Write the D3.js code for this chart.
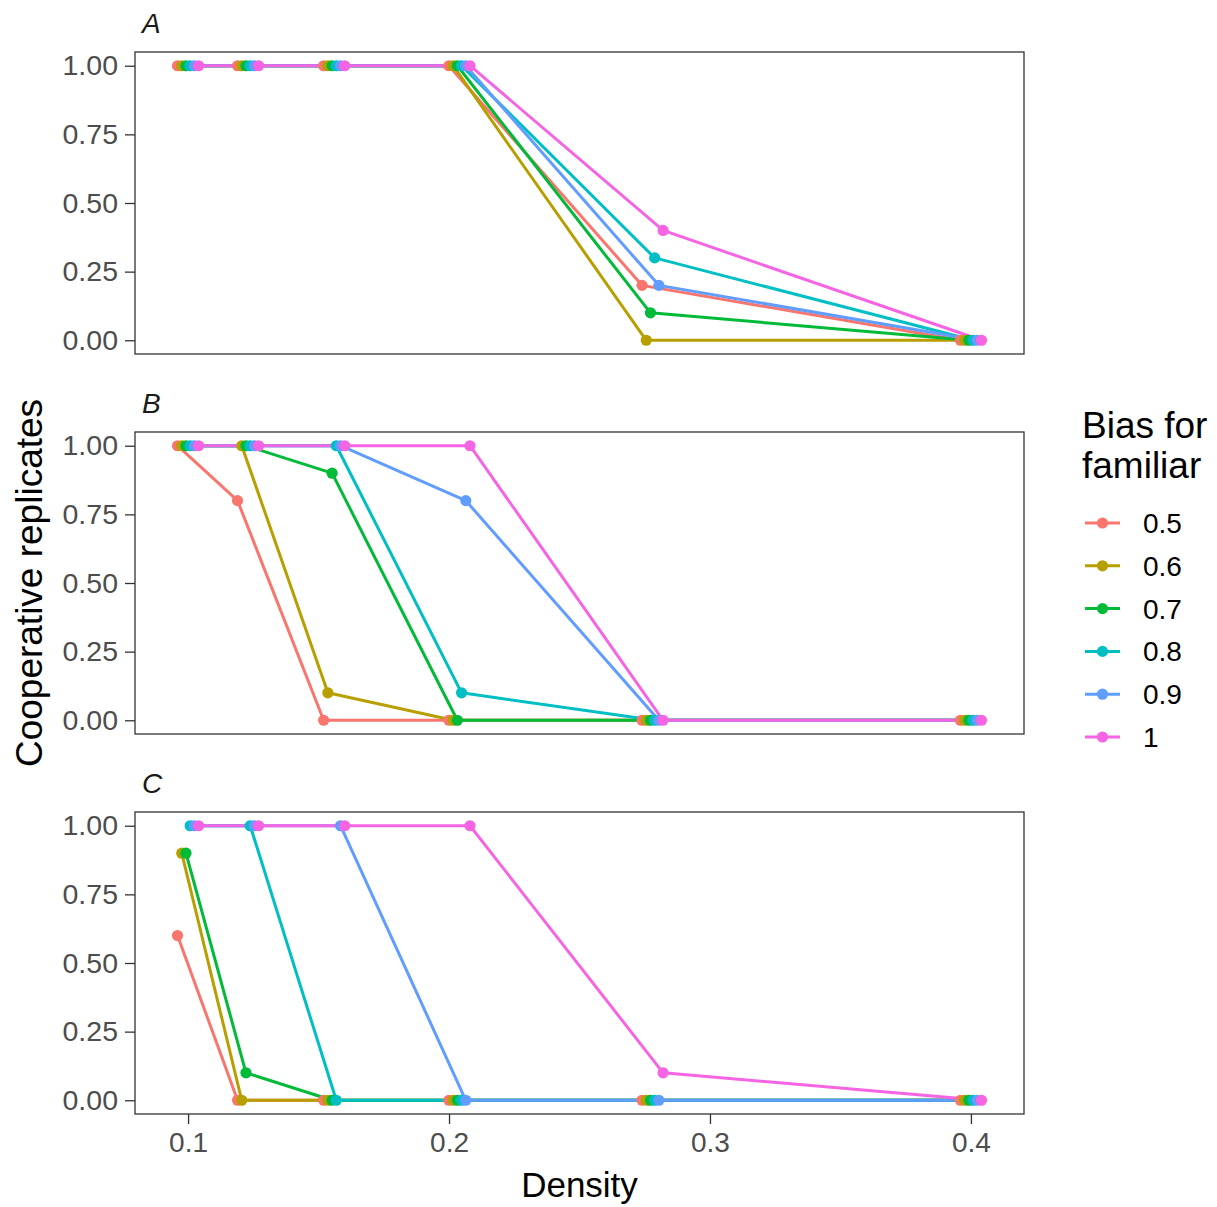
<!DOCTYPE html>
<html>
<head>
<meta charset="utf-8">
<script src="https://cdn.jsdelivr.net/npm/d3@7"></script>
<style>
  body { margin: 0; background: #ffffff; }
  svg text { font-family: "Liberation Sans", Arial, Helvetica, sans-serif; }
</style>
</head>
<body>
<svg id="chart" width="1217" height="1207"></svg>
<script>
// Density levels (x groups)
const densities = [0.1, 0.123, 0.156, 0.204, 0.278, 0.4];
// Bias-for-familiar levels and their colours
const biasLevels = ["0.5", "0.6", "0.7", "0.8", "0.9", "1"];
const biasColors = ["#F8766D", "#B79F00", "#00BA38", "#00BFC4", "#619CFF", "#F564E3"];
// Facet labels
const panelNames = ["A", "B", "C"];
// Share of cooperative replicates: one row per bias level, one value per density
const panelA = [
  [1, 1, 1, 1, 0.2, 0],
  [1, 1, 1, 1, 0.0, 0],
  [1, 1, 1, 1, 0.1, 0],
  [1, 1, 1, 1, 0.3, 0],
  [1, 1, 1, 1, 0.2, 0],
  [1, 1, 1, 1, 0.4, 0]
];
const panelB = [
  [1, 0.8, 0.0, 0.0, 0, 0],
  [1, 1.0, 0.1, 0.0, 0, 0],
  [1, 1.0, 0.9, 0.0, 0, 0],
  [1, 1.0, 1.0, 0.1, 0, 0],
  [1, 1.0, 1.0, 0.8, 0, 0],
  [1, 1.0, 1.0, 1.0, 0, 0]
];
const panelC = [
  [0.6, 0.0, 0, 0, 0.0, 0],
  [0.9, 0.0, 0, 0, 0.0, 0],
  [0.9, 0.1, 0, 0, 0.0, 0],
  [1.0, 1.0, 0, 0, 0.0, 0],
  [1.0, 1.0, 1, 0, 0.0, 0],
  [1.0, 1.0, 1, 1, 0.1, 0]
];
const yTicks = [0, 0.25, 0.5, 0.75, 1];
const yTickLabels = ["0.00", "0.25", "0.50", "0.75", "1.00"];
const xTicks = [0.1, 0.2, 0.3, 0.4];
const xTickLabels = ["0.1", "0.2", "0.3", "0.4"];

const panelValues = [panelA, panelB, panelC];

// ---- layout ----
const svg = d3.select("#chart");
const left = 135, right = 1024;
const panelTops = [52, 432, 812];
const panelH = 302;
const dodgeWidth = 0.0097;              // total dodge width in data units
const step = dodgeWidth / biasLevels.length;
const lineW = 3, pointR = 5.6;

// x domain: dodged extent expanded by 5% on each side
const xMin = d3.min(densities) - dodgeWidth / 2;
const xMax = d3.max(densities) + dodgeWidth / 2;
const xPad = (xMax - xMin) * 0.05;
const x = d3.scaleLinear().domain([xMin - xPad, xMax + xPad]).range([left, right]);

const dodge = (i) => (i - (biasLevels.length - 1) / 2) * step;

panelNames.forEach((name, p) => {
  const top = panelTops[p];
  const y = d3.scaleLinear().domain([-0.05, 1.05]).range([top + panelH, top]);
  const g = svg.append("g");

  // facet label
  g.append("text")
    .attr("x", 142).attr("y", top - 19)
    .attr("font-size", 28).attr("font-style", "italic")
    .attr("fill", "#1A1A1A")
    .text(name);

  // y axis
  const yAxis = d3.axisLeft(y).tickValues(yTicks)
    .tickFormat((d, i) => yTickLabels[i])
    .tickSize(10).tickPadding(7);
  const ya = g.append("g").attr("transform", `translate(${left},0)`).call(yAxis);
  ya.select(".domain").remove();
  ya.selectAll(".tick line").attr("stroke", "#333333").attr("stroke-width", 1.3);
  ya.selectAll(".tick text").attr("font-size", 28.5).attr("fill", "#4D4D4D")
    .attr("font-family", "'Liberation Sans', Arial, sans-serif");

  // x axis on the last panel only
  if (p === panelNames.length - 1) {
    const xAxis = d3.axisBottom(x).tickValues(xTicks)
      .tickFormat((d, i) => xTickLabels[i])
      .tickSize(10).tickPadding(8);
    const xa = g.append("g").attr("transform", `translate(0,${top + panelH})`).call(xAxis);
    xa.select(".domain").remove();
    xa.selectAll(".tick line").attr("stroke", "#333333").attr("stroke-width", 1.3);
    xa.selectAll(".tick text").attr("font-size", 28).attr("fill", "#4D4D4D")
      .attr("font-family", "'Liberation Sans', Arial, sans-serif");
  }

  // series
  const series = panelValues[p].map((vals, i) => ({
    bias: biasLevels[i],
    color: biasColors[i],
    pts: vals.map((v, j) => ({ x: densities[j] + dodge(i), y: v }))
  }));

  const line = d3.line().x(d => x(d.x)).y(d => y(d.y));
  g.append("g").selectAll("path").data(series).join("path")
    .attr("d", d => line(d.pts))
    .attr("fill", "none")
    .attr("stroke", d => d.color)
    .attr("stroke-width", lineW)
    .attr("stroke-linejoin", "round");

  const pg = g.append("g");
  series.forEach(s => {
    pg.selectAll(null).data(s.pts).join("circle")
      .attr("cx", d => x(d.x)).attr("cy", d => y(d.y))
      .attr("r", pointR).attr("fill", s.color);
  });

  // panel border
  g.append("rect")
    .attr("x", left).attr("y", top)
    .attr("width", right - left).attr("height", panelH)
    .attr("fill", "none").attr("stroke", "#333333").attr("stroke-width", 1.3);
});

// axis titles
svg.append("text")
  .attr("x", (left + right) / 2).attr("y", 1197)
  .attr("text-anchor", "middle").attr("font-size", 35).attr("fill", "#000")
  .text("Density");

svg.append("text")
  .attr("transform", `translate(42,${(panelTops[0] + panelTops[2] + panelH) / 2}) rotate(-90)`)
  .attr("text-anchor", "middle").attr("font-size", 37).attr("fill", "#000")
  .text("Cooperative replicates");

// legend
const legend = svg.append("g");
legend.append("text").attr("x", 1082).attr("y", 438)
  .attr("font-size", 37).attr("fill", "#000").text("Bias for");
legend.append("text").attr("x", 1082).attr("y", 478)
  .attr("font-size", 37).attr("fill", "#000").text("familiar");

const ly = d3.scalePoint().domain(biasLevels).range([523, 737]);
biasLevels.forEach((b, i) => {
  const yy = ly(b);
  legend.append("line").attr("x1", 1085).attr("x2", 1120)
    .attr("y1", yy).attr("y2", yy)
    .attr("stroke", biasColors[i]).attr("stroke-width", lineW);
  legend.append("circle").attr("cx", 1102.5).attr("cy", yy).attr("r", pointR)
    .attr("fill", biasColors[i]);
  legend.append("text").attr("x", 1143).attr("y", yy).attr("dy", "0.36em")
    .attr("font-size", 28).attr("fill", "#000").text(b);
});
</script>
</body>
</html>
